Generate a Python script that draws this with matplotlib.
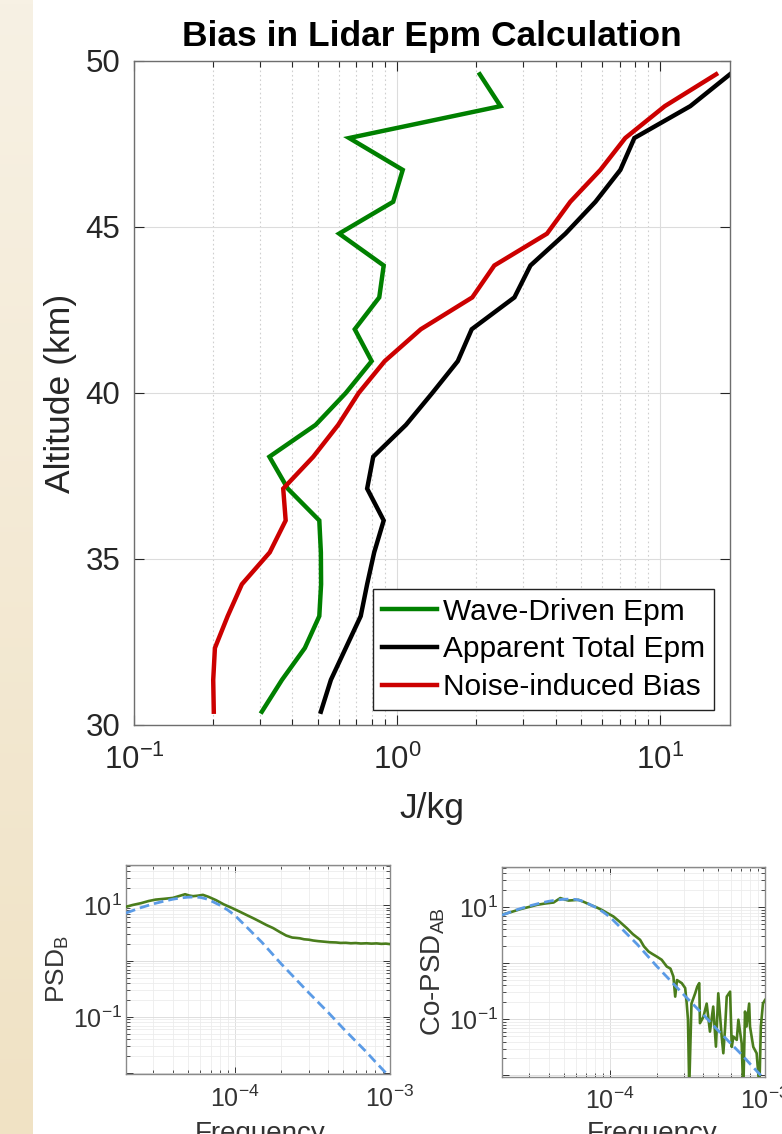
import numpy as np
import matplotlib
matplotlib.use("Agg")
import matplotlib.pyplot as plt
from matplotlib.ticker import LogLocator, NullFormatter, FixedLocator, FixedFormatter

plt.rcParams['font.family'] = ['Liberation Sans', 'DejaVu Sans']
plt.rcParams['mathtext.fontset'] = 'custom'
plt.rcParams['mathtext.rm'] = 'Liberation Sans'
plt.rcParams['mathtext.it'] = 'Liberation Sans:italic'
plt.rcParams['mathtext.bf'] = 'Liberation Sans:bold'

# ---------------- main chart data ----------------
altitude_km = [30.4, 31.36, 32.32, 33.28, 34.24, 35.2, 36.16, 37.12, 38.08, 39.04,
               40.0, 40.96, 41.92, 42.88, 43.84, 44.8, 45.76, 46.72, 47.68, 48.64, 49.6]
wave_driven = [0.306, 0.365, 0.446, 0.506, 0.514, 0.513, 0.506, 0.384, 0.327, 0.49,
               0.638, 0.800, 0.690, 0.855, 0.889, 0.602, 0.966, 1.05, 0.657, 2.47, 2.06]
apparent_total = [0.513, 0.560, 0.638, 0.727, 0.769, 0.818, 0.889, 0.769, 0.811, 1.08,
                  1.36, 1.70, 1.92, 2.79, 3.21, 4.36, 5.67, 7.05, 7.97, 13.0, 18.4]
noise_bias = [0.201, 0.200, 0.203, 0.227, 0.257, 0.328, 0.377, 0.369, 0.48, 0.597,
              0.714, 0.897, 1.23, 1.93, 2.34, 3.71, 4.55, 5.92, 7.36, 10.4, 16.3]
series_labels = ['Wave-Driven Epm', 'Apparent Total Epm', 'Noise-induced Bias']

# ---------------- small panels data ----------------
model_freq = [2.0e-5, 2.5e-5, 3.0e-5, 3.5e-5, 4.0e-5, 4.5e-5, 5.0e-5, 5.5e-5, 6.0e-5, 6.5e-5,
              7.0e-5, 8.0e-5, 9.0e-5, 1.0e-4, 1.2e-4, 1.5e-4, 2.0e-4, 2.5e-4, 3.0e-4, 4.0e-4,
              5.0e-4, 6.0e-4, 7.0e-4, 8.0e-4, 9.0e-4, 1.0e-3]
model_psd = [7.2, 9.0, 10.5, 11.7, 12.7, 13.4, 13.8, 13.9, 13.7, 13.0,
             12.0, 10.0, 8.2, 6.6, 4.0, 2.15, 0.88, 0.46, 0.27, 0.12,
             0.062, 0.037, 0.024, 0.016, 0.0113, 0.0083]

psdb_freq = [2.0e-5, 2.2e-5, 2.5e-5, 2.8e-5, 3.1e-5, 3.5e-5, 4.0e-5, 4.4e-5, 4.8e-5, 5.1e-5,
             5.4e-5, 5.8e-5, 6.25e-5, 6.8e-5, 7.6e-5, 8.5e-5, 9.75e-5, 1.08e-4, 1.19e-4, 1.32e-4,
             1.45e-4, 1.6e-4, 1.77e-4, 1.95e-4, 2.15e-4, 2.35e-4, 2.5e-4, 2.63e-4, 2.8e-4, 3.0e-4,
             3.2e-4, 3.45e-4, 3.7e-4, 4.1e-4, 4.5e-4, 4.8e-4, 5.2e-4, 5.6e-4, 6.0e-4, 6.5e-4,
             7.06e-4, 7.6e-4, 8.2e-4, 8.8e-4, 9.4e-4, 1.0e-3]
psdb_val = [9.3, 10.0, 10.8, 11.8, 12.5, 12.9, 13.4, 14.5, 15.6, 14.8,
            14.4, 14.7, 15.2, 14.0, 12.2, 10.3, 8.7, 7.6, 6.66, 5.8,
            5.08, 4.4, 3.87, 3.3, 2.84, 2.62, 2.58, 2.54, 2.44, 2.40,
            2.32, 2.26, 2.22, 2.16, 2.14, 2.10, 2.11, 2.07, 2.09, 2.05,
            2.07, 2.04, 2.06, 2.02, 2.04, 2.0]

copsd_freq = [2.0e-5, 2.3e-5, 2.63e-5, 3.0e-5, 3.37e-5, 3.8e-5, 4.31e-5, 4.76e-5, 5.1e-5, 5.38e-5,
              5.8e-5, 6.24e-5, 6.8e-5, 7.43e-5, 8.1e-5, 8.84e-5, 9.6e-5, 1.05e-4, 1.15e-4, 1.28e-4,
              1.4e-4, 1.56e-4, 1.65e-4, 1.77e-4, 1.88e-4, 2.0e-4, 2.15e-4, 2.32e-4, 2.45e-4, 2.56e-4,
              2.63e-4, 2.7e-4, 2.9e-4, 3.05e-4, 3.12e-4, 3.18e-4, 3.24e-4, 3.35e-4, 3.54e-4, 3.65e-4,
              3.76e-4, 3.8e-4, 4.0e-4, 4.2e-4, 4.41e-4, 4.63e-4, 4.82e-4, 4.99e-4, 5.25e-4, 5.38e-4,
              5.53e-4, 5.66e-4, 5.95e-4, 6.1e-4, 6.25e-4, 6.57e-4, 6.73e-4, 7.07e-4, 7.24e-4, 7.43e-4,
              7.6e-4, 7.9e-4, 8.0e-4, 8.4e-4, 8.83e-4, 9.2e-4, 9.4e-4, 9.7e-4, 1.0e-3]
copsd_val = [7.3, 8.2, 9.2, 10.1, 11.0, 11.6, 12.1, 14.5, 13.6, 13.1,
             13.3, 13.5, 12.3, 11.0, 10.0, 8.9, 7.8, 6.8, 5.5, 4.22,
             3.3, 2.61, 2.0, 1.61, 1.45, 1.31, 1.15, 0.87, 0.80, 0.577,
             0.253, 0.50, 0.44, 0.36, 0.193, 0.098, 0.006, 0.19, 0.29, 0.38,
             0.44, 0.085, 0.11, 0.19, 0.060, 0.168, 0.0324, 0.29, 0.049, 0.0247,
             0.074, 0.253, 0.31, 0.032, 0.049, 0.0427, 0.098, 0.037, 0.005, 0.137,
             0.074, 0.19, 0.074, 0.032, 0.0247, 0.006, 0.074, 0.19, 0.22]

W, H = 782, 1134
fig = plt.figure(figsize=(W / 100, H / 100), dpi=100)
fig.patch.set_facecolor('white')

def fr(x0, y0, x1, y1):
    return [x0 / W, 1 - y1 / H, (x1 - x0) / W, (y1 - y0) / H]

# beige strip at the left
strip = fig.add_axes(fr(0, 0, 33, 1134))
c_top = np.array([247, 241, 228]) / 255
c_bot = np.array([240, 226, 196]) / 255
t = np.linspace(0, 1, 256)[:, None]
grad = (c_top[None, None, :] * (1 - t[..., None]) + c_bot[None, None, :] * t[..., None])
strip.imshow(np.repeat(grad, 2, axis=1), aspect='auto', extent=[0, 1, 0, 1])
strip.axis('off')

# ---------------- main axes ----------------
ax = fig.add_axes(fr(134, 61, 730, 725))
ax.plot(wave_driven, altitude_km, color='#008000', lw=3.2, label=series_labels[0], solid_joinstyle='miter')
ax.plot(apparent_total, altitude_km, color='black', lw=3.2, label=series_labels[1], solid_joinstyle='miter')
ax.plot(noise_bias, altitude_km, color='#cc0000', lw=3.2, label=series_labels[2], solid_joinstyle='miter')
ax.set_xscale('log')
ax.set_xlim(0.1, 18.4)
ax.set_ylim(30, 50)
ax.set_yticks([30, 35, 40, 45, 50])
ax.xaxis.set_major_locator(LogLocator(base=10, numticks=10))
ax.xaxis.set_minor_locator(LogLocator(base=10, subs=np.arange(2, 10), numticks=20))
ax.xaxis.set_minor_formatter(NullFormatter())
ax.grid(True, which='major', color='#dcdcdc', lw=0.8, ls='-')
ax.grid(True, which='minor', axis='x', color='#cfcfcf', lw=0.8, ls=(0, (1.5, 2.5)))
ax.tick_params(which='both', direction='in', top=True, right=True, colors='#262626',
               labelsize=22.5)
ax.tick_params(which='major', length=7, width=0.8)
ax.tick_params(which='minor', length=4, width=0.8)
ax.tick_params(axis='x', pad=14)
ax.tick_params(axis='y', pad=10)
for s in ax.spines.values():
    s.set_color('#6e6e6e')
    s.set_linewidth(1.0)
ax.set_title('Bias in Lidar Epm Calculation', fontsize=25.5, fontweight='bold', pad=11)
ax.set_xlabel('J/kg', fontsize=25.5, color='#262626', labelpad=12)
ax.set_ylabel('Altitude (km)', fontsize=25.5, color='#262626', labelpad=6)
leg = ax.legend(loc='lower right', bbox_to_anchor=(0.973, 0.0226), fontsize=21.5,
                frameon=True, fancybox=False, edgecolor='#222222', framealpha=1,
                handlelength=1.85, handletextpad=0.18, labelspacing=0.32, borderpad=0.3,
                borderaxespad=0)
leg.get_frame().set_linewidth(1.0)

# ---------------- small panels ----------------
def small_panel(rect, f_obs, v_obs, ylabel, ylabel_size):
    a = fig.add_axes(rect)
    a.plot(f_obs, v_obs, color='#4a7d1c', lw=1.9, zorder=3)
    a.plot(model_freq, model_psd, color='#5b9be6', lw=2.0, ls=(0, (3.5, 1.8)), zorder=4)
    a.set_xscale('log')
    a.set_yscale('log')
    a.set_xlim(2e-5, 1e-3)
    a.set_ylim(0.0095, 52)
    a.xaxis.set_major_locator(FixedLocator([1e-4, 1e-3]))
    a.xaxis.set_major_formatter(FixedFormatter([r'$\mathdefault{10^{-4}}$', r'$\mathdefault{10^{-3}}$']))
    a.xaxis.set_minor_locator(LogLocator(base=10, subs=np.arange(2, 10), numticks=20))
    a.xaxis.set_minor_formatter(NullFormatter())
    a.yaxis.set_major_locator(FixedLocator([0.01, 0.1, 1, 10]))
    a.yaxis.set_major_formatter(FixedFormatter(['', r'$\mathdefault{10^{-1}}$', '', r'$\mathdefault{10^{1}}$']))
    a.yaxis.set_minor_locator(LogLocator(base=10, subs=np.arange(2, 10), numticks=20))
    a.yaxis.set_minor_formatter(NullFormatter())
    a.grid(True, which='major', color='#dedede', lw=0.7)
    a.grid(True, which='minor', color='#ececec', lw=0.6)
    a.tick_params(which='both', direction='in', top=True, right=True, colors='#333333',
                  labelsize=18)
    a.tick_params(which='major', length=5, width=0.7)
    a.tick_params(which='minor', length=3, width=0.6)
    a.tick_params(axis='x', pad=8)
    a.tick_params(axis='y', pad=3)
    for s in a.spines.values():
        s.set_color('#8a8a8a')
        s.set_linewidth(1.0)
    a.set_ylabel(ylabel, fontsize=ylabel_size, color='#333333', labelpad=1)
    return a

p1 = small_panel(fr(126, 865, 390, 1074), psdb_freq, psdb_val, r'PSD$_\mathregular{B}$', 19)
p2 = small_panel(fr(502, 867, 765, 1076.5), copsd_freq, copsd_val, r'Co-PSD$_\mathregular{AB}$', 20)

fig.text(260 / W, 1 - 1121 / H, 'Frequency', fontsize=20, color='#333333', ha='center', va='top')
fig.text(652 / W, 1 - 1121 / H, 'Frequency', fontsize=20, color='#333333', ha='center', va='top')

fig.savefig('out.png', dpi=100)
